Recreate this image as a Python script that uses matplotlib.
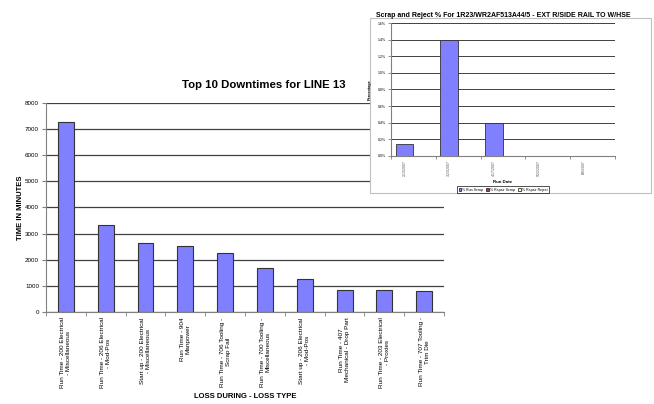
import matplotlib.pyplot as plt
import numpy as np
from matplotlib.patches import Rectangle

plt.rcParams['font.family'] = ['Liberation Sans', 'DejaVu Sans']

# downtime per loss type (minutes)
perdidas = [
    "Run Time - 200 Electrical\n- Miscellaneous",
    "Run Time - 206 Electrical\n- Mod-Pos",
    "Start up - 200 Electrical\n- Miscellaneous",
    "Run Time - 904\nManpower",
    "Run Time - 706 Tooling -\nScrap Fail",
    "Run Time - 700 Tooling -\nMiscellaneous",
    "Start up - 206 Electrical\n- Mod-Pos",
    "Run Time - 407\nMechanical - Drop Part",
    "Run Time - 203 Electrical\n- Proxies",
    "Run Time - 707 Tooling -\nTrim Die",
]
minutos = [7280, 3320, 2640, 2540, 2240, 1700, 1245, 850, 850, 800]
ticks_min = [0, 1000, 2000, 3000, 4000, 5000, 6000, 7000, 8000]

# scrap / reject percentages per run date
fechas = ["2/13/2007", "3/23/2007", "4/17/2007", "5/22/2007", "6/8/2007"]
run_scrap = [0.14, 1.40, 0.40, 0.0, 0.0]
repair_scrap = [0.0, 0.0, 0.0, 0.0, 0.0]
repair_reject = [0.0, 0.0, 0.0, 0.0, 0.0]
ticks_pct = [0.0, 0.2, 0.4, 0.6, 0.8, 1.0, 1.2, 1.4, 1.6]

azul = "#8080FF"
gris = "#808080"

fig = plt.figure(figsize=(6.54, 4.04), dpi=100)

# main chart
ax = fig.add_axes([0.0703, 0.228, 0.6087, 0.517])
x = np.arange(len(perdidas))
ax.bar(x, minutos, width=0.4, color=azul, edgecolor="#333333", linewidth=0.8, zorder=3)
ax.set_xlim(-0.5, len(perdidas) - 0.5)
ax.set_ylim(0, 8000)
ax.set_yticks(ticks_min)
ax.set_yticklabels([str(t) for t in ticks_min], fontsize=4.5)
ax.yaxis.grid(True, color="#404040", linewidth=0.9, zorder=0)
ax.set_xticks(x)
ax.set_xticklabels(perdidas, rotation=90, fontsize=4.6, va="top", ha="center",
                   multialignment="center")
ax.set_xticks(np.arange(len(perdidas) + 1) - 0.5, minor=True)
ax.tick_params(axis="x", which="major", length=0, pad=4)
ax.tick_params(axis="x", which="minor", length=3, color=gris)
ax.tick_params(axis="y", length=3, color=gris, pad=2)
for s in ["top", "right"]:
    ax.spines[s].set_visible(False)
ax.spines["left"].set_color(gris)
ax.spines["bottom"].set_color(gris)
ax.set_ylabel("TIME IN MINUTES", fontsize=5.5, fontweight="bold", labelpad=1)
ax.set_xlabel("LOSS DURING - LOSS TYPE", fontsize=5.5, fontweight="bold", labelpad=3)
fig.text(0.404, 0.79, "Top 10 Downtimes for LINE 13", fontsize=8.2, fontweight="bold",
         ha="center", va="center")

# inset panel
marco = Rectangle((0.566, 0.522), 0.429, 0.433, transform=fig.transFigure,
                  facecolor="white", edgecolor="#C0C0C0", linewidth=0.8, zorder=1)
fig.patches.append(marco)

ax2 = fig.add_axes([0.598, 0.614, 0.342, 0.329], zorder=2)
ax2.set_facecolor("none")
x2 = np.arange(len(fechas))
ax2.bar(x2 - 0.2, run_scrap, width=0.4, color=azul, edgecolor="#333333", linewidth=0.6,
        zorder=3, label="% Run Scrap")
ax2.bar(x2, repair_scrap, width=0.2, color="#993366", edgecolor="#333333", linewidth=0.6,
        zorder=3, label="% Repair Scrap")
ax2.bar(x2 + 0.2, repair_reject, width=0.2, color="#FFFFCC", edgecolor="#333333",
        linewidth=0.6, zorder=3, label="% Repair Reject")
ax2.set_xlim(-0.5, len(fechas) - 0.5)
ax2.set_ylim(0, 1.6)
ax2.set_yticks(ticks_pct)
ax2.set_yticklabels(["%.1f%%" % t for t in ticks_pct], fontsize=2.5)
ax2.yaxis.grid(True, color="#404040", linewidth=0.7, zorder=0)
ax2.set_xticks(x2 - 0.2)
ax2.set_xticklabels(fechas, rotation=90, fontsize=2.5, color="#555555")
ax2.set_xticks(np.arange(len(fechas) + 1) - 0.5, minor=True)
ax2.tick_params(axis="x", which="major", length=0, pad=3)
ax2.tick_params(axis="x", which="minor", length=2, color=gris, width=0.6)
ax2.tick_params(axis="y", length=2, color=gris, width=0.6, pad=2)
for s in ["top", "right"]:
    ax2.spines[s].set_visible(False)
ax2.spines["left"].set_color(gris)
ax2.spines["bottom"].set_color(gris)
ax2.set_ylabel("Percentage", fontsize=2.8, fontweight="bold", labelpad=4)
ax2.set_xlabel("Run Date", fontsize=3.2, fontweight="bold", labelpad=3)
ax2.set_title("Scrap and Reject % For 1R23/WR2AF513A44/5 - EXT R/SIDE RAIL TO W/HSE",
              fontsize=5, fontweight="bold", pad=4)
leg = ax2.legend(loc="upper center", bbox_to_anchor=(0.5, -0.215), ncol=3, fontsize=2.5,
                 frameon=True, fancybox=False, edgecolor="black", handlelength=0.8,
                 handleheight=0.8, columnspacing=0.8, handletextpad=0.3,
                 borderpad=0.4)
leg.get_frame().set_linewidth(0.6)

fig.savefig("out.png", dpi=100)
